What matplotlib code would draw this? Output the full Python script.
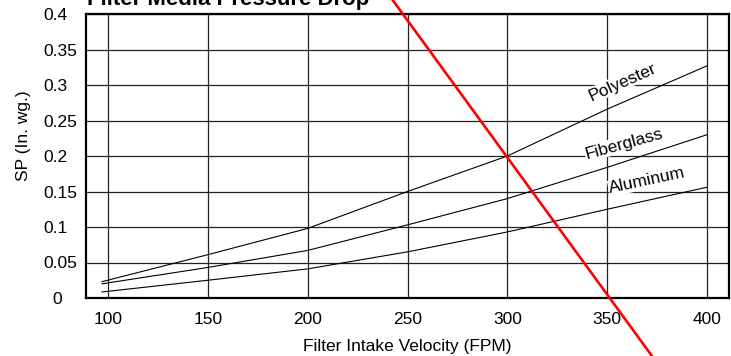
import matplotlib
matplotlib.use("Agg")
import matplotlib.pyplot as plt
from matplotlib.transforms import ScaledTranslation

plt.rcParams["font.family"] = ["Liberation Sans", "DejaVu Sans"]

# values
velocity = [97, 150, 200, 250, 300, 350, 400]
polyester = [0.023, 0.061, 0.098, 0.150, 0.200, 0.266, 0.327]
fiberglass = [0.020, 0.043, 0.067, 0.103, 0.140, 0.184, 0.230]
aluminum = [0.0085, 0.025, 0.041, 0.065, 0.093, 0.125, 0.156]

# red operating line (runs past the plot frame)
red_x = [242.5, 372.5]
red_y = [0.42, -0.082]

x_ticks = [100, 150, 200, 250, 300, 350, 400]
y_ticks = [0, 0.05, 0.1, 0.15, 0.2, 0.25, 0.3, 0.35, 0.4]
y_tick_labels = ["0", "0.05", "0.1", "0.15", "0.2", "0.25", "0.3", "0.35", "0.4"]

W, H = 731, 356
fig = plt.figure(figsize=(W / 100, H / 100), dpi=100)
ax = fig.add_axes([86 / W, 1 - 298 / H, (729 - 86) / W, (298 - 14) / H])

for series in (polyester, fiberglass, aluminum):
    ax.plot(velocity, series, color="black", linewidth=0.8, zorder=3)

ax.plot(red_x, red_y, color="#ff0000", linewidth=1.9, clip_on=False, zorder=5)

ax.set_xlim(89, 411)
ax.set_ylim(0, 0.4)
ax.set_xticks(x_ticks)
ax.set_yticks(y_ticks)
ax.set_yticklabels(y_tick_labels)
ax.tick_params(axis="both", length=0, labelsize=12.5, colors="black")
ax.tick_params(axis="x", pad=10)
ax.tick_params(axis="y", pad=31)
for lbl in ax.get_yticklabels():
    lbl.set_ha("left")
# the "0" label sits a little further right in the original
zero_lbl = ax.get_yticklabels()[0]
zero_lbl.set_transform(zero_lbl.get_transform()
                       + ScaledTranslation(9.5 / 100, 0, fig.dpi_scale_trans))

ax.grid(True, color="#222222", linewidth=0.9)
ax.set_axisbelow(True)
for spine in ax.spines.values():
    spine.set_linewidth(1.6)
    spine.set_color("black")

ax.set_xlabel("Filter Intake Velocity (FPM)", fontsize=12.5, labelpad=9)
ax.set_ylabel("SP (In. wg.)", fontsize=12.5)
ax.yaxis.set_label_coords(-55 / 643, 0.57)

box = dict(facecolor="white", edgecolor="none", pad=0.5)
ax.text(357.5, 0.304, "Polyester", rotation=24, ha="center", va="center",
        rotation_mode="anchor", fontsize=12.5, bbox=box, zorder=4)
ax.text(358.5, 0.217, "Fiberglass", rotation=15.5, ha="center", va="center",
        rotation_mode="anchor", fontsize=12.5, bbox=box, zorder=4)
ax.text(370, 0.165, "Aluminum", rotation=12, ha="center", va="center",
        rotation_mode="anchor", fontsize=12.5, bbox=box, zorder=4)

fig.text(87 / W, 1 - 5 / H, "Filter Media Pressure Drop", fontsize=16,
         fontweight="bold", ha="left", va="baseline")

fig.savefig("out.png", dpi=100)
